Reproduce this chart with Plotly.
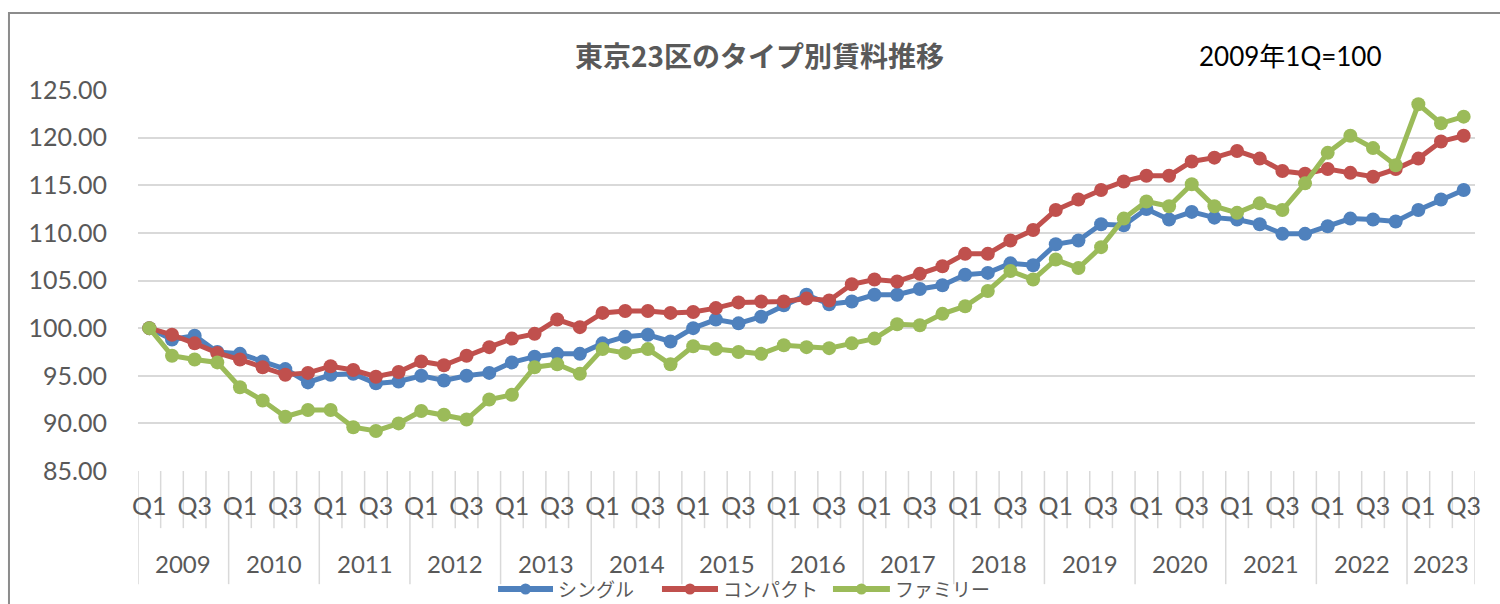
import plotly.graph_objects as go

# Quarterly rent index for Tokyo's 23 wards by unit type (2009 Q1 = 100)
years = [str(y) for y in range(2009, 2024)]
quarters = ["Q1", "Q2", "Q3", "Q4"]
periods = [(y, q) for y in years for q in quarters][:59]  # through 2023 Q3

single = [100.0, 98.8, 99.2, 97.5, 97.3, 96.5, 95.7, 94.3, 95.1, 95.2, 94.2, 94.4, 95.0, 94.5, 95.0,
          95.3, 96.4, 97.0, 97.3, 97.3, 98.4, 99.1, 99.3, 98.6, 100.0, 100.9, 100.5, 101.2, 102.4, 103.5,
          102.5, 102.8, 103.5, 103.5, 104.1, 104.5, 105.6, 105.8, 106.8, 106.6, 108.8, 109.2, 110.9, 110.8, 112.5,
          111.4, 112.2, 111.6, 111.4, 110.9, 109.9, 109.9, 110.7, 111.5, 111.4, 111.2, 112.4, 113.5, 114.5]
compact = [100.0, 99.3, 98.4, 97.4, 96.7, 95.9, 95.1, 95.3, 96.0, 95.6, 94.9, 95.4, 96.5, 96.1, 97.1,
           98.0, 98.9, 99.4, 100.9, 100.1, 101.6, 101.8, 101.8, 101.6, 101.7, 102.1, 102.7, 102.8, 102.8, 103.1,
           102.9, 104.6, 105.1, 104.9, 105.7, 106.5, 107.8, 107.8, 109.2, 110.3, 112.4, 113.5, 114.5, 115.4, 116.0,
           116.0, 117.5, 117.9, 118.6, 117.8, 116.5, 116.2, 116.7, 116.3, 115.9, 116.7, 117.8, 119.6, 120.2]
family = [100.0, 97.1, 96.7, 96.4, 93.8, 92.4, 90.7, 91.4, 91.4, 89.6, 89.2, 90.0, 91.3, 90.9, 90.4,
          92.5, 93.0, 95.9, 96.2, 95.2, 97.8, 97.4, 97.8, 96.2, 98.1, 97.8, 97.5, 97.3, 98.2, 98.0,
          97.9, 98.4, 98.9, 100.4, 100.3, 101.5, 102.3, 103.9, 106.0, 105.1, 107.2, 106.3, 108.5, 111.5, 113.3,
          112.8, 115.1, 112.8, 112.1, 113.1, 112.4, 115.2, 118.4, 120.2, 118.9, 117.1, 123.5, 121.5, 122.2]

series = [("シングル", single, "#4F81BD"),
          ("コンパクト", compact, "#C0504D"),
          ("ファミリー", family, "#9BBB59")]

y_ticks = [85, 90, 95, 100, 105, 110, 115, 120, 125]

TEXT = "#595959"
GRID = "#D9D9D9"
LATIN = "Lato, 'Noto Sans CJK JP'"
CJK = "'Noto Sans CJK JP', sans-serif"

n = len(periods)
idx = list(range(n))

fig = go.Figure()
for name, vals, color in series:
    fig.add_trace(go.Scatter(
        x=idx, y=vals, name=name, mode="lines+markers",
        line=dict(color=color, width=5),
        marker=dict(color=color, size=14, line=dict(width=0)),
        showlegend=False, cliponaxis=False,
    ))

shapes = []
# quarter separators below the axis
for i in range(n + 1):
    year_edge = (i % 4 == 0) or i == n
    shapes.append(dict(type="line", xref="x", yref="paper",
                       x0=i - 0.5, x1=i - 0.5, y0=0, y1=-0.297 if year_edge else -0.150,
                       line=dict(color=GRID, width=1.5), layer="below"))

# outer chart frame
shapes.append(dict(type="rect", xref="paper", yref="paper",
                   x0=-0.0965, x1=1.2, y0=-0.6, y1=1.202,
                   line=dict(color="#8C8C8C", width=2), fillcolor="rgba(0,0,0,0)"))

annotations = []
# year labels centred under each year's quarters
for y in years:
    members = [i for i, (py, _) in enumerate(periods) if py == y]
    if not members:
        continue
    annotations.append(dict(x=(members[0] + members[-1]) / 2, y=-0.243,
                            xref="x", yref="paper", text=y, showarrow=False,
                            font=dict(family=LATIN, size=24, color=TEXT),
                            xanchor="center", yanchor="middle"))

# title and base note
annotations.append(dict(x=0.465, y=1.093, xref="paper", yref="paper",
                        text="<b>東京23区のタイプ別賃料推移</b>", showarrow=False,
                        font=dict(family=CJK, size=28, color=TEXT),
                        xanchor="center", yanchor="middle"))
annotations.append(dict(x=0.792, y=1.088, xref="paper", yref="paper",
                        text="2009年1Q=100", showarrow=False,
                        font=dict(family=LATIN, size=26, color="#000000"),
                        xanchor="left", yanchor="middle"))

# legend row
legend_pos = [(0.2693, 0.3104), (0.3919, 0.4338), (0.5198, 0.5624)]
leg_y = -0.3097
for (name, _, color), (lx0, lx1) in zip(series, legend_pos):
    shapes.append(dict(type="line", xref="paper", yref="paper",
                       x0=lx0, x1=lx1, y0=leg_y, y1=leg_y,
                       line=dict(color=color, width=6)))
    shapes.append(dict(type="circle", xref="paper", yref="paper",
                       xsizemode="pixel", ysizemode="pixel",
                       xanchor=(lx0 + lx1) / 2, yanchor=leg_y,
                       x0=-5.5, x1=5.5, y0=-5.5, y1=5.5,
                       fillcolor=color, line=dict(width=0)))
    annotations.append(dict(x=lx1 + 0.002, y=leg_y, xref="paper", yref="paper",
                            text=name, showarrow=False,
                            font=dict(family=CJK, size=19, color=TEXT),
                            xanchor="left", yanchor="middle"))

fig.update_layout(
    width=1500, height=604,
    margin=dict(l=138, r=25, t=90, b=133),
    paper_bgcolor="white", plot_bgcolor="white",
    shapes=shapes, annotations=annotations,
    xaxis=dict(range=[-0.5, n - 0.5], tickvals=[i for i in idx if i % 2 == 0],
               ticktext=[periods[i][1] for i in idx if i % 2 == 0],
               showgrid=False, zeroline=False, showline=False, ticks="",
               tickfont=dict(family=LATIN, size=25, color=TEXT),
               ticklabelstandoff=18),
    yaxis=dict(range=[85, 125], tickvals=y_ticks, tickformat=".2f",
               showgrid=True, gridcolor=GRID, gridwidth=1.5,
               zeroline=False, showline=False, ticks="",
               tickfont=dict(family=LATIN, size=25, color=TEXT),
               ticklabelstandoff=30),
)

fig.write_html("out.html")
